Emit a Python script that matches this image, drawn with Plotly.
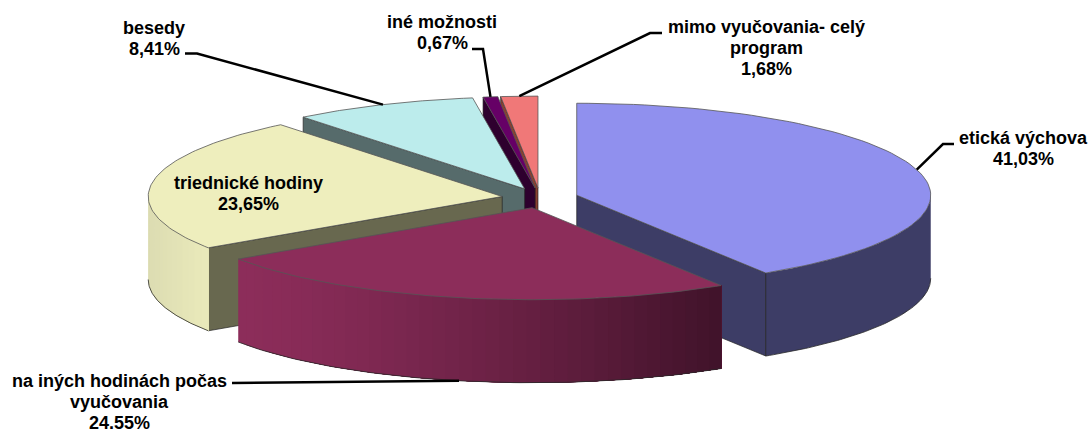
import math
import plotly.graph_objects as go

label_lines = [["etická výchova", "41,03%"],
               ["na iných hodinách počas", "vyučovania", "24.55%"],
               ["triednické hodiny", "23,65%"],
               ["besedy", "8,41%"],
               ["iné možnosti", "0,67%"],
               ["mimo vyučovania- celý", "program", "1,68%"]]
values = [41.03, 24.55, 23.65, 8.41, 0.67, 1.68]

top_colors = ["#9090ee", "#8c2d5a", "#eeeebd", "#bcecec", "#660066", "#f07878"]
cut_colors = ["#3d3d66", "#3f1229", "#68684f", "#566b6b", "#2e002e", "#8b4030"]

CX, CY, RX, RY, DEPTH, PULL = 540.0, 198.0, 354.0, 92.0, 83.0, 0.108
LINE_PITCH = 21.0
DRAW_ORDER = [5, 4, 3, 0, 2, 1]
label_first_line = [(1023, 138), (119, 381), (248, 183), (154, 28), (442, 22), (766, 27)]
leader_mid = [[(943, 144), (954, 144)], [(232, 383)], None, [(197, 53.5), (185, 53.5)],
              [(483, 49), (472, 49)], [(650, 33), (662, 33)]]

total = sum(values)
starts, a = [], 0.0
for v in values:
    starts.append(a)
    a += v / total * 360
ends = starts[1:] + [360.0]

fig = go.Figure()


def pt(c, deg, z=0.0):
    r = math.radians(deg)
    return c[0] + RX * math.sin(r), c[1] - RY * math.cos(r) + z


def poly(points, fill, line="rgba(0,0,0,0)", width=0.0):
    xs = [p[0] for p in points]
    ys = [p[1] for p in points]
    fig.add_trace(go.Scatter(x=xs, y=ys, mode="lines", fill="toself", fillcolor=fill,
                             line=dict(color=line, width=width), hoverinfo="skip", showlegend=False))


def arc(c, a0, a1, z=0.0, n=80):
    return [pt(c, a0 + (a1 - a0) * k / n, z) for k in range(n + 1)]


def mix(c1, c2, t):
    p = [int(c1[i:i + 2], 16) for i in (1, 3, 5)]
    q = [int(c2[i:i + 2], 16) for i in (1, 3, 5)]
    return "rgb(%d,%d,%d)" % tuple(round(p[i] + (q[i] - p[i]) * t) for i in range(3))


def rim(c, a0, a1, col0, col1, n=40, power=1.0):
    """Outer wall from a0 to a1: each strip repaints everything after it, so no seams show."""
    x0, x1 = pt(c, a0)[0], pt(c, a1)[0]
    for k in range(n):
        b0 = a0 + (a1 - a0) * k / n
        t = (pt(c, b0)[0] - x0) / (x1 - x0)
        poly(arc(c, b0, a1, 0, 60) + arc(c, a1, b0, DEPTH, 60), mix(col0, col1, t ** power))
    poly(arc(c, a0, a1, DEPTH), "rgba(0,0,0,0)", "#2a2a2a", 0.8)


def cut(c, deg, col):
    e = pt(c, deg)
    poly([c, e, (e[0], e[1] + DEPTH), (c[0], c[1] + DEPTH), c], col, "#222222", 0.7)


centers = []
for i in range(len(values)):
    m = math.radians((starts[i] + ends[i]) / 2)
    centers.append((CX + PULL * RX * math.sin(m), CY - PULL * RY * math.cos(m)))

for i in DRAW_ORDER:
    c = centers[i]
    if i == 0:
        cut(c, ends[i], cut_colors[i])
        rim(c, 90, ends[i], cut_colors[i], cut_colors[i], 1)
        e = pt(c, ends[i])
        poly([e, (e[0], e[1] + DEPTH)], "rgba(0,0,0,0)", "#222222", 0.7)
    elif i == 1:
        rim(c, ends[i], starts[i], top_colors[i], cut_colors[i], power=1.3)
    elif i == 2:
        cut(c, starts[i], cut_colors[i])
        rim(c, 270, starts[i], "#dcdcb2", "#ebebbb", 16)
    else:
        cut(c, starts[i], cut_colors[i])
    poly([c] + arc(c, starts[i], ends[i]) + [c], top_colors[i], "#555555", 0.8)

for i in range(len(values)):
    if leader_mid[i] is None:
        continue
    m = (starts[i] + ends[i]) / 2
    z = DEPTH if i == 1 else 0.0
    path = [pt(centers[i], m, z)] + leader_mid[i]
    fig.add_trace(go.Scatter(x=[p[0] for p in path], y=[p[1] for p in path], mode="lines",
                             line=dict(color="#000000", width=2.5), hoverinfo="skip", showlegend=False))

for i in range(len(values)):
    for k, line in enumerate(label_lines[i]):
        fig.add_annotation(x=label_first_line[i][0], y=label_first_line[i][1] + k * LINE_PITCH,
                           xref="x", yref="y", text="<b>%s</b>" % line, showarrow=False,
                           xanchor="center", yanchor="middle", align="center",
                           font=dict(family="Liberation Sans", size=18, color="#000000"))

fig.update_layout(width=1091, height=429, margin=dict(l=0, r=0, t=0, b=0),
                  paper_bgcolor="#ffffff", plot_bgcolor="#ffffff", showlegend=False,
                  xaxis=dict(range=[0, 1091], visible=False, fixedrange=True),
                  yaxis=dict(range=[429, 0], visible=False, fixedrange=True))
fig.write_html("out.html", post_script="document.body.style.margin='0';", config=dict(displayModeBar=False))
